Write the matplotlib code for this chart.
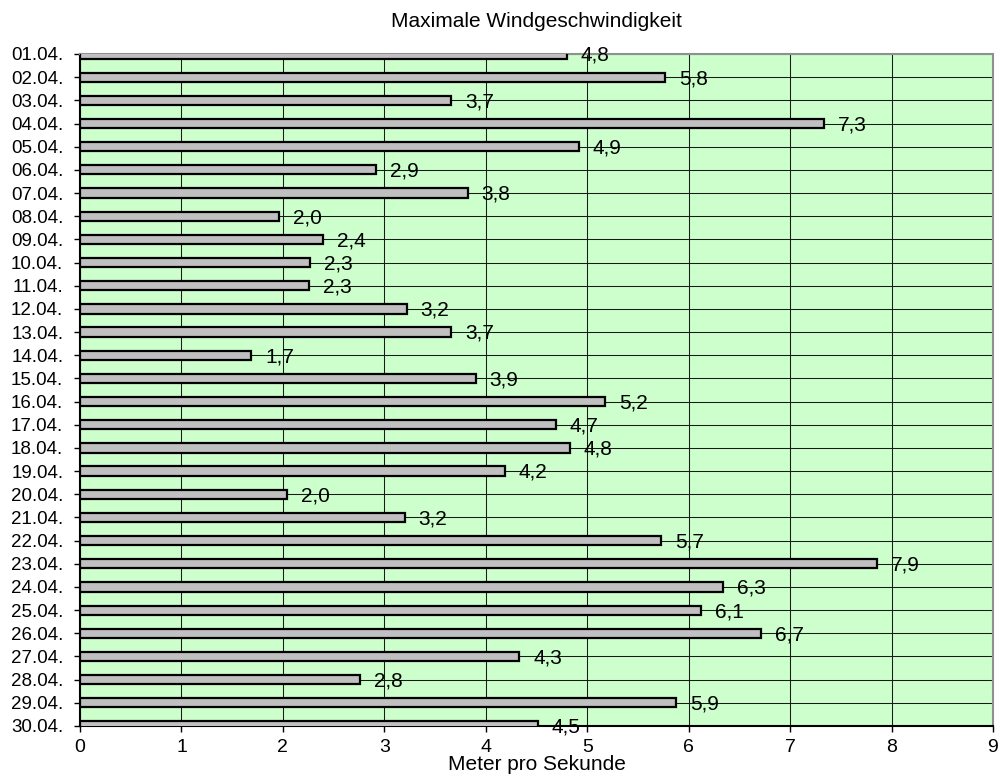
import numpy as np
import matplotlib
matplotlib.use('Agg')
import matplotlib.pyplot as plt

plt.rcParams['font.family'] = ['Liberation Sans', 'DejaVu Sans']

days = ['01.04.', '02.04.', '03.04.', '04.04.', '05.04.', '06.04.', '07.04.', '08.04.', '09.04.', '10.04.',
        '11.04.', '12.04.', '13.04.', '14.04.', '15.04.', '16.04.', '17.04.', '18.04.', '19.04.', '20.04.',
        '21.04.', '22.04.', '23.04.', '24.04.', '25.04.', '26.04.', '27.04.', '28.04.', '29.04.', '30.04.']
wind_max = [4.80, 5.77, 3.66, 7.33, 4.92, 2.92, 3.82, 1.96, 2.40, 2.27,
            2.26, 3.22, 3.66, 1.69, 3.90, 5.18, 4.69, 4.83, 4.19, 2.04,
            3.20, 5.73, 7.86, 6.34, 6.12, 6.71, 4.33, 2.76, 5.88, 4.51]
x_ticks = list(range(0, 10))

title = 'Maximale Windgeschwindigkeit'
x_label = 'Meter pro Sekunde'

fig = plt.figure(figsize=(10, 7.8), dpi=100)
ax = fig.add_axes([0.08, 1 - 726 / 780, 0.913, (726 - 54) / 780])
ax.set_facecolor('#CCFFCC')

pos = np.arange(len(days))
bars = ax.barh(pos, wind_max, height=0.4, color='#C0C0C0', edgecolor='black', linewidth=1.6, zorder=3)

# value labels with german decimal comma
for y, v in zip(pos, wind_max):
    ax.annotate('{0:.1f}'.format(v).replace('.', ','), (v, y), xytext=(10, -1), textcoords='offset points',
                va='center', ha='left', fontsize=15, zorder=4, annotation_clip=False)

ax.set_xlim(0, 9)
ax.set_ylim(len(days) - 1, 0)
ax.set_xticks(x_ticks)
ax.set_yticks(pos)
ax.set_yticklabels(days)
ax.grid(True, color='#1a1a1a', linewidth=0.75, zorder=1)
ax.set_axisbelow(True)

ax.tick_params(axis='y', labelsize=13.5, length=4, width=1, pad=8, direction='out')
ax.tick_params(axis='x', labelsize=14, length=4, width=1, pad=5, direction='out')

for side in ['left', 'bottom']:
    ax.spines[side].set_color('black')
    ax.spines[side].set_linewidth(1.5)
for side in ['top', 'right']:
    ax.spines[side].set_color('#909090')
    ax.spines[side].set_linewidth(1.5)

ax.set_xlabel(x_label, fontsize=15, labelpad=0)
fig.text(0.5365, 1 - 26.7 / 780, title, ha='center', va='baseline', fontsize=15)

fig.savefig('out.png', dpi=100)
